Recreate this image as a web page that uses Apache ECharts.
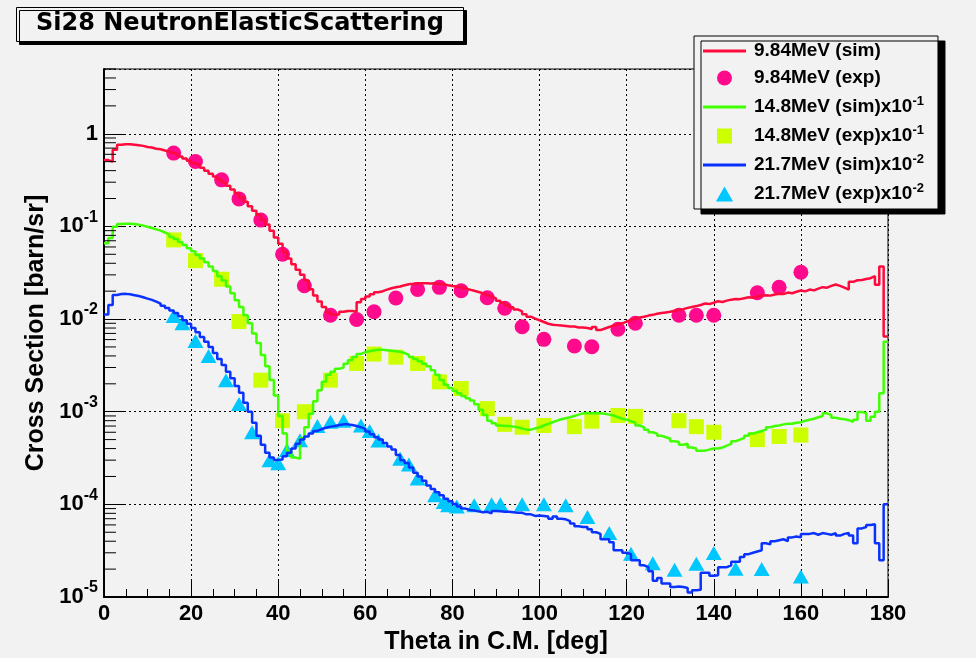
<!DOCTYPE html>
<html>
<head>
<meta charset="utf-8">
<title>Si28 NeutronElasticScattering</title>
<script src="https://cdn.jsdelivr.net/npm/echarts@6/dist/echarts.min.js"></script>
<style>
  html, body { margin: 0; padding: 0; background: #f2f2f2; }
  #chart { width: 976px; height: 658px; }
</style>
</head>
<body>
<div id="chart"></div>
<script>
// Simulated cross sections, one value per 1-degree bin starting at 0 deg (barn/sr)
const sim984 = [
  0.52, 0.50, 0.67, 0.76, 0.77, 0.77, 0.76, 0.75, 0.74, 0.72,
  0.71, 0.69, 0.68, 0.66, 0.64, 0.62, 0.60, 0.57, 0.54, 0.51,
  0.48, 0.46, 0.43, 0.40, 0.37, 0.345, 0.32, 0.30, 0.275, 0.25,
  0.23, 0.205, 0.185, 0.165, 0.148, 0.133, 0.118, 0.105, 0.090, 0.076,
  0.065, 0.053, 0.045, 0.039, 0.034, 0.030, 0.026, 0.021, 0.018, 0.0155,
  0.0135, 0.0118, 0.0112, 0.0112, 0.0120, 0.0122, 0.0122, 0.0120, 0.0152, 0.0165,
  0.0175, 0.0185, 0.0195, 0.0200, 0.0208, 0.0215, 0.0220, 0.0225, 0.0232, 0.0238,
  0.0240, 0.0243, 0.0243, 0.0244, 0.0242, 0.0243, 0.0241, 0.0238, 0.0232, 0.0228,
  0.0225, 0.0220, 0.0214, 0.0208, 0.0202, 0.0196, 0.0190, 0.0182, 0.0175, 0.0167,
  0.0158, 0.0150, 0.0142, 0.0134, 0.0127, 0.0121, 0.0113, 0.0106, 0.0101, 0.0097,
  0.0093, 0.0089, 0.0087, 0.0086, 0.0085, 0.0084, 0.0083, 0.0083, 0.0081, 0.0081,
  0.0080, 0.0078, 0.0082, 0.0076, 0.0079, 0.0082, 0.0085, 0.0088, 0.0090, 0.0094,
  0.0097, 0.0101, 0.0104, 0.0106, 0.0109, 0.0111, 0.0114, 0.0116, 0.0118, 0.0120,
  0.0123, 0.0126, 0.0128, 0.0132, 0.0135, 0.0138, 0.0142, 0.0147, 0.0145, 0.0150,
  0.0156, 0.0153, 0.0158, 0.0162, 0.0165, 0.0164, 0.0168, 0.0172, 0.0170, 0.0175,
  0.0178, 0.0181, 0.0179, 0.0184, 0.0188, 0.0186, 0.0193, 0.0190, 0.0197, 0.0203,
  0.0199, 0.0208, 0.0204, 0.0213, 0.0221, 0.0218, 0.0228, 0.0236, 0.0228, 0.0218,
  0.0208, 0.0252, 0.0262, 0.0264, 0.0270, 0.0276, 0.0290, 0.0235, 0.0370, 0.0065
];
const sim148 = [
  0.066, 0.075, 0.099, 0.106, 0.107, 0.107, 0.106, 0.104, 0.102, 0.099,
  0.096, 0.093, 0.090, 0.086, 0.082, 0.077, 0.073, 0.068, 0.063, 0.058,
  0.054, 0.049, 0.045, 0.041, 0.037, 0.033, 0.029, 0.026, 0.0225, 0.019,
  0.016, 0.0135, 0.011, 0.0090, 0.0070, 0.0055, 0.0041, 0.0031, 0.0022, 0.0015,
  0.00090, 0.00058, 0.00038, 0.00032, 0.00031, 0.00052, 0.00068, 0.00095, 0.00130, 0.00170,
  0.00210, 0.00250, 0.00270, 0.00290, 0.00300, 0.00330, 0.00360, 0.00390, 0.00420, 0.00440,
  0.00450, 0.00460, 0.00465, 0.00465, 0.00460, 0.00455, 0.00450, 0.00443, 0.00430, 0.00410,
  0.00390, 0.00370, 0.00350, 0.00330, 0.00310, 0.00280, 0.00250, 0.00220, 0.00195, 0.00180,
  0.00168, 0.00158, 0.00148, 0.00140, 0.00132, 0.00120, 0.00105, 0.00092, 0.00080, 0.00075,
  0.00071, 0.00070, 0.00070, 0.00069, 0.00068, 0.00066, 0.00064, 0.00064, 0.00066, 0.00068,
  0.00071, 0.00074, 0.00077, 0.00080, 0.00083, 0.00085, 0.00087, 0.00090, 0.00093, 0.00096,
  0.00097, 0.00096, 0.00097, 0.00096, 0.00095, 0.00093, 0.00091, 0.00087, 0.00084, 0.00082,
  0.00079, 0.00076, 0.00071, 0.00068, 0.00064, 0.00060, 0.00058, 0.00055, 0.00053, 0.00051,
  0.00048, 0.00047, 0.00044, 0.00045, 0.00041, 0.00040, 0.00038, 0.00038, 0.00039, 0.00040,
  0.00040, 0.00041, 0.00043, 0.00045, 0.00048, 0.00050, 0.00052, 0.00055, 0.00058, 0.00060,
  0.00062, 0.00064, 0.00068, 0.00070, 0.00071, 0.00073, 0.00074, 0.00074, 0.00076, 0.00077,
  0.00080, 0.00082, 0.00084, 0.00087, 0.00090, 0.00096, 0.00092, 0.00086, 0.00084, 0.00083,
  0.00081, 0.00078, 0.00082, 0.00099, 0.00097, 0.00080, 0.00088, 0.00100, 0.00158, 0.0057
];
const sim217 = [
  0.0112, 0.0142, 0.0182, 0.0186, 0.0187, 0.0185, 0.0181, 0.0177, 0.0172, 0.0166,
  0.0161, 0.0154, 0.0147, 0.0139, 0.0132, 0.0124, 0.0116, 0.0107, 0.0097, 0.0089,
  0.0080, 0.0072, 0.0064, 0.0057, 0.0050, 0.0043, 0.0037, 0.0032, 0.0027, 0.0023,
  0.0019, 0.0016, 0.00125, 0.00100, 0.00076, 0.00055, 0.00044, 0.00036, 0.00032, 0.000302,
  0.000305, 0.00033, 0.00036, 0.00040, 0.00045, 0.00050, 0.00054, 0.00058, 0.00062, 0.00065,
  0.00067, 0.00069, 0.00070, 0.00072, 0.00073, 0.00073, 0.00072, 0.00070, 0.00068, 0.00065,
  0.00061, 0.00057, 0.00053, 0.00050, 0.00046, 0.00042, 0.00039, 0.00034, 0.00030, 0.00028,
  0.00025, 0.00022, 0.00020, 0.00018, 0.00016, 0.000146, 0.000135, 0.000125, 0.000115, 0.000108,
  0.000101, 0.000095, 0.000090, 0.000087, 0.000086, 0.000084, 0.000082, 0.000083, 0.000080, 0.000085,
  0.000084, 0.000083, 0.000083, 0.000082, 0.000081, 0.000081, 0.000078, 0.000078, 0.000075, 0.000076,
  0.000075, 0.000074, 0.000070, 0.000074, 0.000070, 0.000069, 0.000066, 0.000062, 0.000058, 0.000057,
  0.000057, 0.000054, 0.000050, 0.000048, 0.000042, 0.000042, 0.000039, 0.000032, 0.000032, 0.000030,
  0.000029, 0.000025, 0.000025, 0.000022, 0.000021, 0.000019, 0.000015, 0.000016, 0.000014, 0.000014,
  0.0000128, 0.0000130, 0.0000128, 0.0000125, 0.0000112, 0.0000118, 0.0000120, 0.0000183, 0.0000183, 0.0000170,
  0.0000172, 0.000021, 0.000021, 0.000022, 0.000024, 0.000024, 0.000027, 0.000029, 0.000030, 0.000031,
  0.000032, 0.000038, 0.000037, 0.000040, 0.000041, 0.000042, 0.000040, 0.000044, 0.000045, 0.000044,
  0.000048, 0.000048, 0.000049, 0.000047, 0.000049, 0.000048, 0.000047, 0.000049, 0.000046, 0.000048,
  0.000049, 0.000046, 0.000038, 0.000055, 0.000057, 0.000060, 0.000061, 0.000038, 0.000025, 0.000100
];

// Measured points: angle (deg) and cross section (barn/sr)
const exp984Theta = [16, 21, 27, 31, 36, 41, 46, 52, 58, 62, 67, 72, 77, 82, 88, 92, 96, 101, 108, 112, 118, 122, 132, 136, 140, 150, 155, 160];
const exp984Value = [0.618, 0.502, 0.318, 0.198, 0.117, 0.050, 0.0229, 0.0110, 0.0099, 0.0120, 0.0169, 0.0209, 0.0220, 0.0202, 0.0170, 0.0131, 0.00826, 0.00604, 0.00511, 0.00502, 0.00777, 0.0090, 0.0110, 0.0110, 0.0110, 0.0192, 0.0220, 0.0320];

const exp148Theta = [16, 21, 27, 31, 36, 41, 46, 52, 58, 62, 67, 72, 77, 82, 88, 92, 96, 101, 108, 112, 118, 122, 132, 136, 140, 150, 155, 160];
const exp148Value = [0.0715, 0.0427, 0.0269, 0.0094, 0.00219, 0.00080, 0.00100, 0.00219, 0.00332, 0.00419, 0.00388, 0.00332, 0.00210, 0.00178, 0.00108, 0.00073, 0.00068, 0.00071, 0.00069, 0.00079, 0.00091, 0.00089, 0.00080, 0.00069, 0.00060, 0.00050, 0.00054, 0.00056];

const exp217Theta = [16, 18, 21, 24, 28, 31, 34, 38, 40, 42, 45, 49, 52, 55, 59, 61, 63, 68, 70, 72, 76, 78, 79, 81, 85, 89, 91, 96, 101, 106, 111, 116, 121, 126, 131, 136, 140, 145, 151, 160];
const exp217Value = [0.0108, 0.0090, 0.0058, 0.0040, 0.00219, 0.00121, 0.00060, 0.000299, 0.000277, 0.000386, 0.000492, 0.00070, 0.00078, 0.00080, 0.00071, 0.00062, 0.00049, 0.00031, 0.00027, 0.00019, 0.000125, 0.000106, 0.0000975, 0.000095, 0.0000975, 0.00010, 0.00010, 0.00010, 0.00010, 0.0000975, 0.0000729, 0.000049, 0.0000293, 0.0000232, 0.0000197, 0.0000229, 0.0000298, 0.0000202, 0.000020, 0.0000166];

// Axis settings
const thetaMin = 0, thetaMax = 180, thetaStep = 20;
const sigmaMin = 1e-5, sigmaMax = 5;
const logMinorMultipliers = [2, 3, 4, 5, 6, 7, 8, 9];

const FONT = '"Liberation Sans", Arial, Helvetica, sans-serif';

// Legend icons
const ICON_LINE = 'path://M0,0H43V3H0Z';
const ICON_SQUARE = 'path://M0,0H10V10H0Z';
const ICON_TRIANGLE = 'path://M8,0L16,14H0Z';

// Histogram outline: each bin is drawn as a step from its low edge; the last edge closes the final bin
function histogramPoints(values) {
  const pts = values.map((v, i) => [thetaMin + i, v]);
  pts.push([thetaMin + values.length, values[values.length - 1]]);
  return pts;
}
function zipPoints(xs, ys) { return xs.map((x, i) => [x, ys[i]]); }

// Minor log ticks (2..9 per decade) inside the plot range
const minorTickValues = [];
for (let e = Math.round(Math.log10(sigmaMin)); e <= Math.ceil(Math.log10(sigmaMax)); e++) {
  logMinorMultipliers.forEach(m => {
    const v = m * Math.pow(10, e);
    if (v > sigmaMin && v <= sigmaMax) minorTickValues.push([thetaMin, v]);
  });
}

const chart = echarts.init(document.getElementById('chart'));

const lineSeries = (name, values, color) => ({
  name, type: 'line', step: 'end', data: histogramPoints(values),
  symbol: 'none', showSymbol: false, silent: true, z: 4,
  lineStyle: { color, width: 2.5 }, itemStyle: { color }
});
const pointSeries = (name, xs, ys, symbol, size, color) => ({
  name, type: 'scatter', data: zipPoints(xs, ys), symbol, symbolSize: size,
  silent: true, z: 3, itemStyle: { color, opacity: 1 }
});

chart.setOption({
  backgroundColor: '#f2f2f2',
  animation: false,
  title: {
    text: 'Si28 NeutronElasticScattering',
    left: 16, top: 7,
    padding: [5, 20, 6, 20],
    backgroundColor: '#f2f2f2',
    borderColor: '#000', borderWidth: 1,
    shadowColor: '#000', shadowBlur: 0, shadowOffsetX: 3, shadowOffsetY: 3,
    textStyle: { fontFamily: '"DejaVu Sans", sans-serif', fontWeight: 'bold', fontSize: 24, color: '#000' }
  },
  legend: {
    left: 694, top: 36,
    orient: 'vertical',
    padding: [5, 14, 5, 9],
    itemWidth: 43, itemHeight: 15, itemGap: 7,
    symbolKeepAspect: true,
    backgroundColor: '#f2f2f2',
    borderColor: '#000', borderWidth: 1,
    shadowColor: '#000', shadowBlur: 0, shadowOffsetX: 7, shadowOffsetY: 5,
    selectedMode: false,
    data: [
      { name: '9.84MeV (sim)', icon: ICON_LINE },
      { name: '9.84MeV (exp)', icon: 'circle' },
      { name: '14.8MeV (sim)x10^-1', icon: ICON_LINE },
      { name: '14.8MeV (exp)x10^-1', icon: ICON_SQUARE },
      { name: '21.7MeV (sim)x10^-2', icon: ICON_LINE },
      { name: '21.7MeV (exp)x10^-2', icon: ICON_TRIANGLE }
    ],
    formatter: name => name.replace(/\^(-\d)/, '{s|$1}'),
    textStyle: {
      fontFamily: FONT, fontWeight: 'bold', fontSize: 19, color: '#000',
      lineHeight: 20, padding: [0, 0, 0, 3],
      rich: { s: { fontFamily: FONT, fontWeight: 'bold', fontSize: 13, color: '#000', verticalAlign: 'bottom', padding: [0, 0, 9, 0], lineHeight: 13 } }
    }
  },
  grid: { left: 104, right: 88, top: 69, bottom: 61, show: true, borderColor: '#000', borderWidth: 1, backgroundColor: 'transparent', outerBoundsMode: 'none' },
  xAxis: {
    type: 'value', min: thetaMin, max: thetaMax, interval: thetaStep,
    name: 'Theta in C.M. [deg]', nameLocation: 'middle', nameGap: 24,
    nameTextStyle: { fontFamily: FONT, fontWeight: 'bold', fontSize: 25, color: '#000' },
    axisLine: { onZero: false, lineStyle: { color: '#000', width: 2 } },
    axisTick: { inside: true, length: 16, lineStyle: { color: '#000', width: 1 } },
    minorTick: { show: true, splitNumber: 4, length: 8, lineStyle: { color: '#000', width: 1 } },
    splitLine: { show: true, lineStyle: { color: '#000', width: 1, type: [2, 3] } },
    axisLabel: { fontFamily: FONT, fontWeight: 'bold', fontSize: 22, color: '#000', margin: 6 }
  },
  yAxis: {
    type: 'log', logBase: 10, min: sigmaMin, max: sigmaMax,
    name: 'Cross Section [barn/sr]', nameLocation: 'middle', nameGap: 53,
    nameTextStyle: { fontFamily: FONT, fontWeight: 'bold', fontSize: 25, color: '#000' },
    axisLine: { onZero: false, lineStyle: { color: '#000', width: 2 } },
    axisTick: { inside: true, length: 22, lineStyle: { color: '#000', width: 1 } },
    splitLine: { show: true, lineStyle: { color: '#000', width: 1, type: [2, 3] } },
    axisLabel: {
      margin: 6, showMaxLabel: false,
      formatter: v => {
        const e = Math.round(Math.log10(v));
        if (Math.abs(Math.log10(v) - e) > 1e-6) return '';
        return e === 0 ? '{b|1}' : '{b|10}{s|' + e + '}';
      },
      rich: {
        b: { fontFamily: FONT, fontWeight: 'bold', fontSize: 22, color: '#000', verticalAlign: 'bottom', lineHeight: 22 },
        s: { fontFamily: FONT, fontWeight: 'bold', fontSize: 16, color: '#000', verticalAlign: 'bottom', padding: [0, 0, 12, 0], lineHeight: 16 }
      }
    }
  },
  series: [
    pointSeries('9.84MeV (exp)', exp984Theta, exp984Value, 'circle', 15, '#ff0a8c'),
    pointSeries('14.8MeV (exp)x10^-1', exp148Theta, exp148Value, 'rect', 15, '#ccff00'),
    pointSeries('21.7MeV (exp)x10^-2', exp217Theta, exp217Value, 'triangle', [16, 14], '#00c8ff'),
    lineSeries('9.84MeV (sim)', sim984, '#ff0a3c'),
    lineSeries('14.8MeV (sim)x10^-1', sim148, '#40ff00'),
    lineSeries('21.7MeV (sim)x10^-2', sim217, '#0a32ff'),
    {
      // minor decade ticks on the logarithmic axis
      type: 'custom', silent: true, z: 5, clip: false,
      data: minorTickValues,
      renderItem: (params, api) => {
        const p = api.coord([api.value(0), api.value(1)]);
        return { type: 'line', shape: { x1: p[0], y1: p[1], x2: p[0] + 12, y2: p[1] }, style: { stroke: '#000', lineWidth: 1 } };
      }
    }
  ]
});
</script>
</body>
</html>
